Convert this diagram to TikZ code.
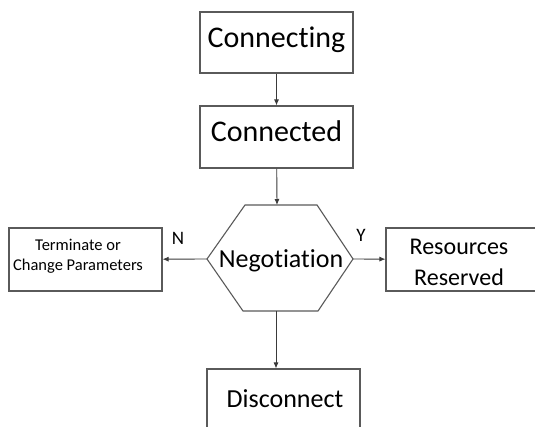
\documentclass[tikz,border=0pt]{standalone}
\usepackage{fontspec}
\setmainfont{Carlito}[RawFeature={-liga}]
\usetikzlibrary{arrows.meta}

\definecolor{boxgray}{HTML}{5A5A5A}
\definecolor{linkgray}{HTML}{3A3A3A}

\tikzset{
  box/.style={draw=boxgray, line width=1.1pt, minimum width=153pt, inner sep=0pt},
  bigtext/.style={font=\fontsize{30}{36}\selectfont, text height=20pt, text depth=10pt},
  link/.style={draw=linkgray, line width=0.9pt, -{Latex[length=6pt,width=5pt]}},
  yn/.style={font=\fontsize{19}{22}\selectfont},
}

\begin{document}
\begin{tikzpicture}[x=1pt, y=-1pt]
    \path[use as bounding box, clip] (0,0) rectangle (535,427);
    \fill[white] (0,0) rectangle (535,427);

    % upper boxes
    \node[box, bigtext, minimum height=61pt] (connecting) at (276.5,42.5) {Connecting};
    \node[box, bigtext, minimum height=62pt] (connected) at (276.5,137) {Connected};

    % hexagon
    \coordinate (hexL) at (207,259);
    \coordinate (hexT) at (277,205);
    \coordinate (hexR) at (353,259);
    \coordinate (hexB) at (276,311);
    \draw[boxgray, line width=1.1pt] (hexL) -- (245,205) -- (317,205) -- (hexR)
        -- (318,311) -- (243,311) -- cycle;
    \node[font=\fontsize{26}{31}\selectfont, anchor=base] (nego) at (281,268) {Negotiation};

    % outcome boxes
    \node[box, minimum height=63pt] (term) at (85.5,259.5) {};
    \node[font=\fontsize{16.5}{20}\selectfont, align=center] (termtext) at (78,256)
        {Terminate or\\Change Parameters};
    \node[box, minimum height=63pt] (res) at (462.5,259.5) {};
    \node[font=\fontsize{24}{31}\selectfont, align=center] (restext) at (459,262)
        {Resources\\Reserved};
    \node[box, minimum height=72pt] (disc) at (283.5,405) {};
    \node[font=\fontsize{26}{31}\selectfont, anchor=base] (disctext) at (285,407) {Disconnect};

    % arrows
    \draw[link] (connecting) -- (connected);
    \draw[link] (connected) -- (hexT);
    \draw[link] (hexL) -- (term);
    \draw[link] (hexR) -- (res);
    \draw[link] (hexB) -- (hexB |- disc.north);

    \node[yn] (no) at (178,238) {N};
    \node[yn] (yes) at (361,235) {Y};
\end{tikzpicture}
\end{document}
